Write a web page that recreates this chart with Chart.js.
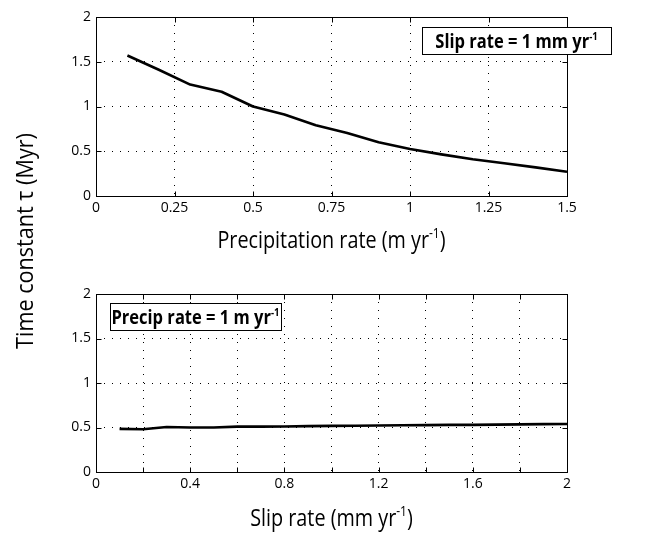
<!DOCTYPE html>
<html><head><meta charset="utf-8">
<script src="https://cdn.jsdelivr.net/npm/chart.js@4.4.1/dist/chart.umd.min.js"></script>
<style>
html,body{margin:0;padding:0;background:#fff;}
body{width:660px;height:535px;position:relative;overflow:hidden;}
canvas{position:absolute;left:0;top:0;}
</style></head>
<body>
<canvas id="c1" width="660" height="535"></canvas>
<canvas id="c2" width="660" height="535"></canvas>
<script>
// ---- data ----
const precipRate = [0.1,0.2,0.3,0.4,0.5,0.6,0.7,0.8,0.9,1.0,1.1,1.2,1.3,1.4,1.5];
const tauVsPrecip = [1.57,1.41,1.245,1.165,1.0,0.91,0.79,0.705,0.60,0.525,0.465,0.41,0.365,0.32,0.27];
const slipRate = [0.1,0.2,0.3,0.4,0.5,0.6,0.7,0.8,0.9,1.0,1.1,1.2,1.3,1.4,1.5,1.6,1.7,1.8,1.9,2.0];
const tauVsSlip = [0.485,0.48,0.505,0.50,0.50,0.51,0.51,0.512,0.515,0.518,0.52,0.522,0.525,0.527,0.53,0.53,0.532,0.535,0.538,0.54];
const yTicks = [0,0.5,1,1.5,2];
const yLabels = ['0','0.5','1','1.5','2'];
const xTicksTop = [0,0.25,0.5,0.75,1,1.25,1.5];
const xLabelsTop = ['0','0.25','0.5','0.75','1','1.25','1.5'];
const xTicksBottom = [0,0.2,0.4,0.6,0.8,1.0,1.2,1.4,1.6,1.8,2.0];
const xLabelsBottom = ['0','','0.4','','0.8','','1.2','','1.6','','2'];
// ---- texts ----
const yTitle = 'Time constant \u03c4 (Myr)';
const xTitleTop = [['Precipitation rate (m yr',0],['-1',1],[')',0]];
const xTitleBottom = [['Slip rate (mm yr',0],['-1',1],[')',0]];
const legendTop = [['Slip rate = 1 mm yr',0],['-1',1]];
const legendBottom = [['Precip rate = 1 m yr',0],['-1',1]];

const FAM = '"Open Sans", "DejaVu Sans", sans-serif';

function richWidth(ctx, parts, size, weight){
  let w = 0;
  for (const [t,s] of parts){
    ctx.font = weight+' '+(s?Math.round(size*0.6):size)+'px '+FAM;
    w += ctx.measureText(t).width;
  }
  return w;
}
function drawRich(ctx, parts, cx, cy, size, weight, squeeze){
  ctx.save();
  ctx.translate(cx, cy);
  ctx.scale(squeeze, 1);
  const w = richWidth(ctx, parts, size, weight);
  let x = -w/2;
  ctx.fillStyle = '#000';
  ctx.textBaseline = 'alphabetic';
  ctx.textAlign = 'left';
  for (const [t,s] of parts){
    const fs = s?Math.round(size*0.6):size;
    ctx.font = weight+' '+fs+'px '+FAM;
    ctx.fillText(t, x, s ? size*0.35 - size*0.42 : size*0.35);
    x += ctx.measureText(t).width;
  }
  ctx.restore();
  return w*squeeze;
}

function framePlugin(cfg){
  return {
    id:'frame',
    afterDraw(chart){
      const {ctx, chartArea:a, scales:{x,y}} = chart;
      ctx.save();
      ctx.strokeStyle = '#000';
      ctx.lineWidth = 1;
      const L = Math.round(a.left)+0.5, R = Math.round(a.right)+0.5,
            T = Math.round(a.top)+0.5, B = Math.round(a.bottom)+0.5;
      ctx.beginPath();
      for (const t of x.ticks){
        const px = Math.round(x.getPixelForValue(t.value))+0.5;
        ctx.moveTo(px,B); ctx.lineTo(px,B-5);
        ctx.moveTo(px,T); ctx.lineTo(px,T+5);
      }
      for (const t of y.ticks){
        const py = Math.round(y.getPixelForValue(t.value))+0.5;
        ctx.moveTo(L,py); ctx.lineTo(L+5,py);
        ctx.moveTo(R,py); ctx.lineTo(R-5,py);
      }
      ctx.stroke();
      ctx.strokeRect(L,T,R-L,B-T);
      // x title
      drawRich(ctx, cfg.xTitle, (a.left+a.right)/2, cfg.xTitleY, 23, 'normal', 0.86);
      // legend box
      const bx = cfg.legendX, by = cfg.legendY, bw = cfg.legendW, bh = cfg.legendH;
      ctx.fillStyle = '#fff';
      ctx.fillRect(bx,by,bw,bh);
      ctx.strokeRect(bx+0.5,by+0.5,bw,bh);
      drawRich(ctx, cfg.legend, bx+bw/2, by+bh/2+0.5, 19, 'bold', 0.87);
      if (cfg.yTitle){
        ctx.save();
        ctx.translate(25, 241);
        ctx.rotate(-Math.PI/2);
        drawRich(ctx, [[cfg.yTitle,0]], 0, 0, 24, 'normal', 0.9);
        ctx.restore();
      }
      ctx.restore();
    }
  };
}

function makeChart(id, xs, ys, xmax, xTicks, xLabels, top, bottom, cfg){
  const H = 535;
  return new Chart(document.getElementById(id), {
    type:'line',
    data:{datasets:[{data: xs.map((v,i)=>({x:v, y:ys[i]})), borderColor:'#000', borderWidth:2.6,
      pointRadius:0, tension:0, fill:false, borderJoinStyle:'round'}]},
    options:{
      responsive:false, animation:false, devicePixelRatio:1,
      layout:{padding:{left:56, right:93, top:top, bottom:H-bottom-20}},
      plugins:{legend:{display:false}, tooltip:{enabled:false}},
      scales:{
        x:{type:'linear', min:0, max:xmax,
          afterBuildTicks:s=>{s.ticks = xTicks.map(v=>({value:v}));},
          afterFit:s=>{s.height=20;},
          ticks:{callback:(v,i)=>xLabels[i], font:{family:FAM,size:14}, color:'#000', padding:4, maxRotation:0, autoSkip:false},
          grid:{color:'#000', drawTicks:false, lineWidth:1, borderDash:[1,7]},
          border:{display:false, dash:[1,7]}},
        y:{type:'linear', min:0, max:2,
          afterBuildTicks:s=>{s.ticks = yTicks.map(v=>({value:v}));},
          afterFit:s=>{s.width=40;},
          ticks:{callback:(v,i)=>yLabels[i], font:{family:FAM,size:14}, color:'#000', padding:5, autoSkip:false},
          grid:{color:'#000', drawTicks:false, lineWidth:1, borderDash:[1,7]},
          border:{display:false, dash:[1,7]}}
      }
    },
    plugins:[framePlugin(cfg)]
  });
}

makeChart('c1', precipRate, tauVsPrecip, 1.5, xTicksTop, xLabelsTop, 17, 196,
  {xTitle:xTitleTop, xTitleY:240, legend:legendTop, legendX:422, legendY:27, legendW:189, legendH:27, yTitle:yTitle});
makeChart('c2', slipRate, tauVsSlip, 2, xTicksBottom, xLabelsBottom, 294, 472,
  {xTitle:xTitleBottom, xTitleY:518, legend:legendBottom, legendX:110, legendY:303, legendW:171, legendH:27});
</script>
</body></html>
